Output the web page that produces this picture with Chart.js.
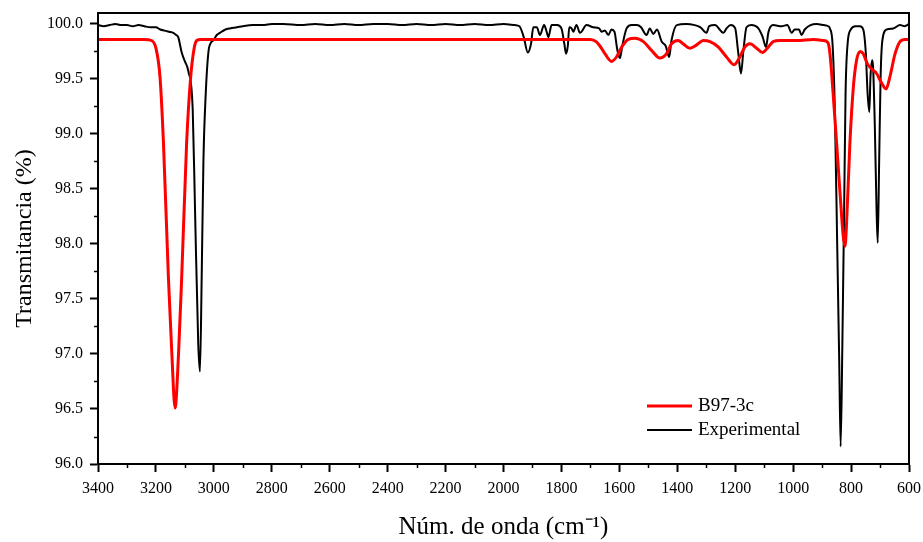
<!DOCTYPE html>
<html>
<head>
<meta charset="utf-8">
<script src="https://cdn.jsdelivr.net/npm/chart.js@4"></script>
<style>
    html, body { margin: 0; padding: 0; background: #fff; }
    #wrap { width: 923px; height: 542px; }
</style>
</head>
<body>
<div id="wrap"><canvas id="ir-chart"></canvas></div>
<script>
// Calculated spectrum (B97-3c)
const calcWavenumber = [
    3400, 3240, 3215, 3200, 3186, 3174, 3157, 3145, 3134, 3122, 3111, 3094, 3080, 3068, 3059, 3045,
    1700, 1680, 1667, 1650, 1627, 1610, 1592, 1569, 1546, 1517, 1489, 1460, 1437, 1420, 1397, 1380,
    1356, 1333, 1310, 1287, 1258, 1230, 1204, 1184, 1167, 1149, 1126, 1106, 1086, 1069, 1046, 988,
    930, 896, 880, 873, 862, 850, 838, 827, 821, 816, 804, 792, 781, 769, 758, 744,
    729, 712, 694, 679, 666, 648, 631, 614, 600,
];
const calcTransmittance = [
    99.86, 99.86, 99.85, 99.78, 99.52, 98.92, 97.70, 97.0, 96.51, 97.0, 97.70, 98.92, 99.52, 99.78, 99.85, 99.86,
    99.86, 99.84, 99.80, 99.73, 99.66, 99.70, 99.79, 99.86, 99.87, 99.84, 99.76, 99.69, 99.73, 99.82, 99.85, 99.82,
    99.78, 99.81, 99.85, 99.84, 99.79, 99.70, 99.63, 99.70, 99.79, 99.82, 99.78, 99.74, 99.79, 99.84, 99.85, 99.85,
    99.86, 99.85, 99.83, 99.73, 99.37, 98.92, 98.46, 98.07, 97.98, 98.16, 98.92, 99.43, 99.67, 99.75, 99.73, 99.64,
    99.59, 99.55, 99.46, 99.41, 99.52, 99.73, 99.84, 99.86, 99.86,
];

// Experimental spectrum
const expWavenumber = [
    3400, 3380, 3360, 3340, 3320, 3300, 3280, 3260, 3240, 3220, 3200, 3185, 3170, 3155, 3140, 3130,
    3123, 3111, 3100, 3088, 3073, 3065, 3054, 3048, 3042, 3036, 3028, 3019, 3010, 3002, 2990, 2979,
    2960, 2944, 2920, 2900, 2865, 2830, 2800, 2760, 2700, 2650, 2600, 2550, 2500, 2450, 2400, 2350,
    2300, 2250, 2200, 2150, 2100, 2050, 2000, 1960, 1945, 1930, 1916, 1905, 1897, 1885, 1874, 1860,
    1850, 1845, 1834, 1815, 1800, 1790, 1784, 1778, 1773, 1765, 1759, 1748, 1736, 1713, 1690, 1670,
    1661, 1650, 1638, 1627, 1617, 1608, 1604, 1598, 1590, 1575, 1558, 1540, 1525, 1506, 1495, 1483,
    1470, 1454, 1440, 1428, 1420, 1402, 1370, 1340, 1320, 1299, 1290, 1270, 1241, 1230, 1215, 1200,
    1190, 1180, 1172, 1161, 1145, 1120, 1105, 1094, 1085, 1069, 1040, 1020, 1005, 995, 980, 971,
    960, 940, 919, 895, 879, 873, 864, 856, 848, 841, 836, 830, 824, 819, 812, 801,
    785, 769, 758, 749, 743, 737, 733, 727, 724, 718, 712, 708, 703, 698, 692, 677,
    654, 631, 615, 600,
];
const expTransmittance = [
    99.99, 99.98, 99.99, 100.0, 99.99, 99.99, 99.98, 99.99, 99.98, 99.97, 99.97, 99.95, 99.94, 99.93, 99.92, 99.90,
    99.88, 99.74, 99.66, 99.57, 99.22, 98.31, 97.10, 96.84, 97.70, 98.76, 99.37, 99.74, 99.83, 99.85, 99.90, 99.92,
    99.95, 99.96, 99.97, 99.98, 99.99, 99.99, 100.0, 100.0, 99.99, 100.0, 99.99, 100.0, 99.99, 100.0, 100.0, 99.99,
    100.0, 99.99, 100.0, 99.99, 100.0, 99.99, 100.0, 99.99, 99.98, 99.88, 99.74, 99.82, 99.97, 99.97, 99.90, 99.99,
    99.92, 99.88, 99.99, 99.99, 99.96, 99.82, 99.73, 99.80, 99.97, 99.96, 99.93, 99.99, 99.92, 99.99, 99.97, 99.96,
    99.93, 99.94, 99.90, 99.95, 99.93, 99.78, 99.73, 99.69, 99.80, 99.96, 99.99, 99.99, 99.97, 99.90, 99.96, 99.91,
    99.95, 99.84, 99.80, 99.70, 99.85, 99.99, 100.0, 99.99, 99.97, 99.92, 99.98, 99.99, 99.92, 99.96, 99.99, 99.96,
    99.75, 99.55, 99.75, 99.97, 99.99, 99.96, 99.88, 99.79, 99.93, 99.99, 99.98, 99.99, 99.92, 99.95, 99.95, 99.90,
    99.95, 99.99, 100.0, 99.99, 99.98, 99.96, 99.82, 99.22, 98.01, 96.95, 96.16, 97.10, 98.31, 99.37, 99.82, 99.95,
    99.98, 99.98, 99.95, 99.73, 99.37, 99.20, 99.52, 99.67, 99.61, 99.07, 98.31, 98.01, 98.76, 99.52, 99.85, 99.95,
    99.96, 99.99, 99.98, 100.0,
];

const xTicksMajor = [3400, 3200, 3000, 2800, 2600, 2400, 2200, 2000, 1800, 1600, 1400, 1200, 1000, 800, 600];
const xTicksMinor = [3300, 3100, 2900, 2700, 2500, 2300, 2100, 1900, 1700, 1500, 1300, 1100, 900, 700];
const yTicksMajor = [96.0, 96.5, 97.0, 97.5, 98.0, 98.5, 99.0, 99.5, 100.0];
const yTicksMinor = [96.25, 96.75, 97.25, 97.75, 98.25, 98.75, 99.25, 99.75];

function toPoints(xs, ys) {
    return xs.map((x, i) => ({ x: x, y: ys[i] }));
}

const FONT = "'Liberation Serif', 'Times New Roman', serif";

// frame, minor ticks and the legend inside the plot
const framePlugin = {
    id: "frame",
    afterDraw(chart) {
        const ctx = chart.ctx;
        const area = chart.chartArea;
        const xs = chart.scales.x;
        const ys = chart.scales.y;
        ctx.save();
        ctx.strokeStyle = "#000";
        ctx.lineWidth = 1.5;
        xTicksMinor.forEach((v) => {
            const px = Math.round(xs.getPixelForValue(v)) + 0.5;
            ctx.beginPath();
            ctx.moveTo(px, area.bottom);
            ctx.lineTo(px, area.bottom + 4);
            ctx.stroke();
        });
        yTicksMinor.forEach((v) => {
            const py = Math.round(ys.getPixelForValue(v)) + 0.5;
            ctx.beginPath();
            ctx.moveTo(area.left, py);
            ctx.lineTo(area.left - 4, py);
            ctx.stroke();
        });
        ctx.lineWidth = 2;
        ctx.strokeRect(area.left, area.top, area.right - area.left, area.bottom - area.top);

        // legend
        ctx.font = "19px " + FONT;
        ctx.textBaseline = "middle";
        ctx.textAlign = "left";
        chart.data.datasets.forEach((ds, i) => {
            const y = 406 + i * 24;
            ctx.strokeStyle = ds.borderColor;
            ctx.lineWidth = ds.borderWidth;
            ctx.beginPath();
            ctx.moveTo(647, y);
            ctx.lineTo(692, y);
            ctx.stroke();
            ctx.fillStyle = "#000";
            ctx.fillText(ds.label, 698, y);
        });
        ctx.restore();
    },
};

var irChart;

function initializeChart() {
    const ctx = document.getElementById("ir-chart").getContext("2d");
    irChart = new Chart(ctx, {
        type: "line",
        data: {
            datasets: [
                {
                    label: "B97-3c",
                    data: toPoints(calcWavenumber, calcTransmittance),
                    borderColor: "#ff0000",
                    borderWidth: 3,
                    pointRadius: 0,
                    fill: false,
                    cubicInterpolationMode: "monotone",
                },
                {
                    label: "Experimental",
                    data: toPoints(expWavenumber, expTransmittance),
                    borderColor: "#000000",
                    borderWidth: 2,
                    pointRadius: 0,
                    fill: false,
                    cubicInterpolationMode: "monotone",
                },
            ],
        },
        options: {
            responsive: true,
            maintainAspectRatio: false,
            animation: false,
            events: [],
            layout: { padding: { top: 13, right: 14, left: 0, bottom: 0 } },
            plugins: {
                legend: { display: false },
                tooltip: { enabled: false },
            },
            scales: {
                x: {
                    type: "linear",
                    reverse: true,
                    min: 600,
                    max: 3400,
                    afterBuildTicks: (scale) => {
                        scale.ticks = xTicksMajor.map((v) => ({ value: v }));
                    },
                    afterFit: (scale) => {
                        scale.height = 78;
                        scale.paddingLeft = 0;
                        scale.paddingRight = 0;
                    },
                    ticks: {
                        color: "#000",
                        font: { family: FONT, size: 16 },
                        padding: 7,
                        maxRotation: 0,
                        autoSkip: false,
                        callback: (v) => String(v),
                    },
                    grid: {
                        drawOnChartArea: false,
                        drawTicks: true,
                        tickLength: 8,
                        tickWidth: 2,
                        tickColor: "#000",
                    },
                    border: { display: true, color: "#000", width: 2 },
                    title: {
                        display: true,
                        text: "Núm. de onda (cm\u207B\u00B9)",
                        color: "#000",
                        font: { family: FONT, size: 25 },
                        padding: { top: 0, bottom: 0 },
                    },
                },
                y: {
                    type: "linear",
                    min: 96,
                    max: 100.1,
                    afterBuildTicks: (scale) => {
                        scale.ticks = yTicksMajor.map((v) => ({ value: v }));
                    },
                    afterFit: (scale) => {
                        scale.width = 98;
                        scale.paddingTop = 0;
                        scale.paddingBottom = 0;
                    },
                    ticks: {
                        color: "#000",
                        font: { family: FONT, size: 16 },
                        padding: 7,
                        callback: (v) => Number(v).toFixed(1),
                    },
                    grid: {
                        drawOnChartArea: false,
                        drawTicks: true,
                        tickLength: 8,
                        tickWidth: 2,
                        tickColor: "#000",
                    },
                    border: { display: true, color: "#000", width: 2 },
                    title: {
                        display: true,
                        text: "Transmitancia (%)",
                        color: "#000",
                        font: { family: FONT, size: 24 },
                        padding: { top: 10, bottom: 4 },
                    },
                },
            },
        },
        plugins: [framePlugin],
    });
}

initializeChart();
</script>
</body>
</html>
